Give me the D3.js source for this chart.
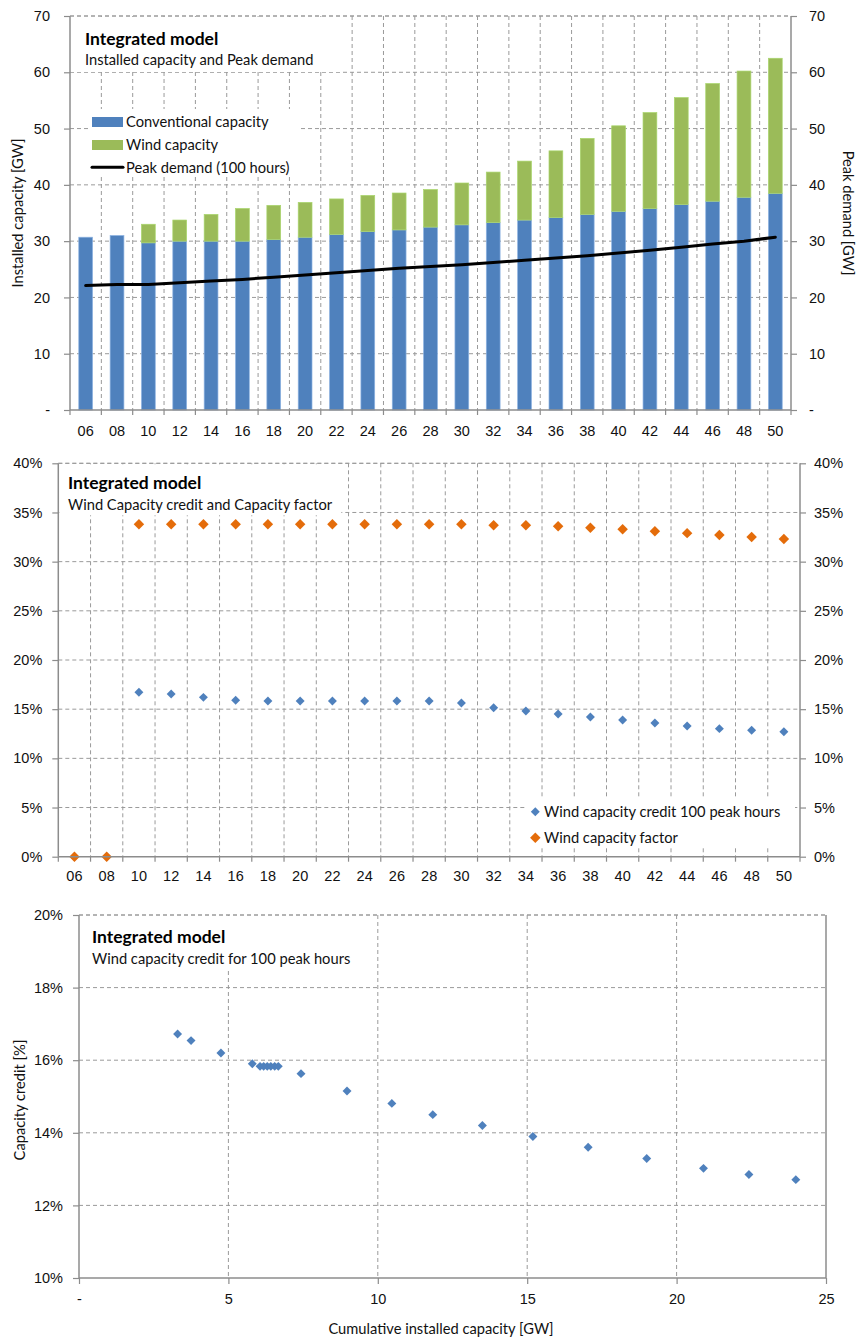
<!DOCTYPE html>
<html>
<head>
<meta charset="utf-8">
<script src="https://cdn.jsdelivr.net/npm/d3@7"></script>
<style>
  html, body { margin: 0; padding: 0; background: #fff; }
  svg { display: block; font-family: Lato, "Open Sans", sans-serif; }
  .tick-label { font-size: 14.5px; fill: #111; }
  .txt { font-size: 14.7px; fill: #111; }
  .ttl { font-size: 17.5px; font-weight: bold; fill: #000; }
</style>
</head>
<body>
<svg id="chart" width="857" height="1340"></svg>
<script>
// ---- data ----
const years = ["06","08","10","12","14","16","18","20","22","24","26","28","30","32","34","36","38","40","42","44","46","48","50"];
// installed conventional capacity [GW]
const conventional = [30.7,31.0,29.7,30.0,30.0,30.0,30.3,30.7,31.2,31.7,32.0,32.5,32.9,33.3,33.75,34.2,34.75,35.3,35.8,36.5,37.1,37.8,38.5];
// cumulative installed wind capacity [GW]
const wind = [0,0,3.3,3.75,4.75,5.8,6.06,6.18,6.3,6.42,6.55,6.67,7.43,8.97,10.47,11.84,13.5,15.19,17.04,19.0,20.9,22.42,23.99];
// peak demand, 100 hours [GW]
const peakDemand = [22.1,22.3,22.3,22.6,22.9,23.2,23.6,24.0,24.4,24.8,25.2,25.5,25.8,26.2,26.6,27.0,27.4,27.9,28.4,28.9,29.5,30.0,30.7];
// wind capacity credit for 100 peak hours [%]
const capacityCredit = [0,0,16.72,16.54,16.2,15.9,15.83,15.83,15.83,15.83,15.83,15.83,15.63,15.15,14.81,14.5,14.2,13.9,13.6,13.29,13.02,12.85,12.71];
// wind capacity factor [%]
const capacityFactor = [0,0,33.8,33.8,33.8,33.8,33.8,33.8,33.8,33.8,33.8,33.8,33.8,33.7,33.7,33.6,33.45,33.3,33.1,32.9,32.7,32.5,32.3];

const gwTicks = [0,10,20,30,40,50,60,70];
const pctTicks = [0,5,10,15,20,25,30,35,40];
const creditTicks = [10,12,14,16,18,20];
const cumTicks = [0,5,10,15,20,25];

const C = { blue: "#4F81BD", blueEdge: "#8DB3E2", green: "#9BBB59", greenEdge: "#A9D66C", orange: "#E46C0A", grid: "#9a9a9a", axis: "#8c8c8c" };

const svg = d3.select("#chart");

function dashedH(g, x0, x1, y) {
  g.append("line").attr("x1", x0).attr("x2", x1).attr("y1", y).attr("y2", y)
    .attr("stroke", C.grid).attr("stroke-width", 1).attr("stroke-dasharray", "4,3");
}
function dashedV(g, x, y0, y1) {
  g.append("line").attr("x1", x).attr("x2", x).attr("y1", y0).attr("y2", y1)
    .attr("stroke", C.grid).attr("stroke-width", 1).attr("stroke-dasharray", "4,3");
}
function solid(g, x1, y1, x2, y2) {
  g.append("line").attr("x1", x1).attr("y1", y1).attr("x2", x2).attr("y2", y2)
    .attr("stroke", C.axis).attr("stroke-width", 1.5);
}
function whiteBox(g, x, y, w, h) {
  g.append("rect").attr("x", x).attr("y", y).attr("width", w).attr("height", h).attr("fill", "#fff");
}
function diamond(area) {
  return d3.symbol().type(d3.symbolSquare).size(area);
}

// ================= Chart 1: installed capacity and peak demand =================
(function () {
  const L = 70, R = 791, T = 16, B = 410;
  const g = svg.append("g");
  const x = d3.scaleBand().domain(years).range([L, R]).padding(0);
  const y = d3.scaleLinear().domain([0, 70]).range([B, T]);
  const yR = d3.scaleLinear().domain([0, 70]).range([B, T]);

  // grid
  gwTicks.filter(v => v > 0).forEach(v => dashedH(g, L, R, y(v)));
  years.slice(1).forEach(yr => dashedV(g, x(yr), T, B));

  // stacked bars
  const rows = years.map((yr, i) => ({ year: yr, conventional: conventional[i], wind: wind[i] }));
  const stack = d3.stack().keys(["conventional", "wind"])(rows);
  const bw = x.bandwidth() * 0.44;
  const fills = { conventional: [C.blue, C.blueEdge], wind: [C.green, C.greenEdge] };
  stack.forEach(layer => {
    g.append("g").selectAll("rect").data(layer.filter(d => d[1] - d[0] > 0)).join("rect")
      .attr("x", d => x(d.data.year) + (x.bandwidth() - bw) / 2)
      .attr("width", bw)
      .attr("y", d => y(d[1]))
      .attr("height", d => y(d[0]) - y(d[1]))
      .attr("fill", fills[layer.key][0])
      .attr("stroke", fills[layer.key][1]).attr("stroke-width", 0.7);
  });

  // peak demand line (right axis)
  const line = d3.line().x((d, i) => x(years[i]) + x.bandwidth() / 2).y(d => yR(d));
  g.append("path").datum(peakDemand).attr("d", line)
    .attr("fill", "none").attr("stroke", "#000").attr("stroke-width", 3).attr("stroke-linecap", "round");

  // title and legend panels
  whiteBox(g, L + 1, T + 1, 270, 55);
  g.append("text").attr("class", "ttl").attr("x", 85).attr("y", 45).text("Integrated model");
  g.append("text").attr("class", "txt").attr("x", 85).attr("y", 64.5).text("Installed capacity and Peak demand");

  whiteBox(g, 88, 109, 212, 68);
  const leg = [
    { label: "Conventional capacity", type: "rect", color: C.blue, cy: 122 },
    { label: "Wind capacity", type: "rect", color: C.green, cy: 145 },
    { label: "Peak demand (100 hours)", type: "line", color: "#000", cy: 167.3 }
  ];
  leg.forEach(d => {
    if (d.type === "rect") {
      g.append("rect").attr("x", 92).attr("y", d.cy - 5).attr("width", 31).attr("height", 10).attr("fill", d.color);
    } else {
      g.append("line").attr("x1", 92).attr("x2", 123).attr("y1", d.cy).attr("y2", d.cy)
        .attr("stroke", d.color).attr("stroke-width", 3).attr("stroke-linecap", "round");
    }
    g.append("text").attr("class", "txt").attr("x", 126).attr("y", d.cy).attr("dy", "0.36em").text(d.label);
  });

  // axes
  const fmt = v => v === 0 ? "-" : String(v);
  const ax = g.append("g").attr("transform", `translate(0,${B})`)
    .call(d3.axisBottom(x).tickSize(0).tickFormat(d => d));
  ax.select(".domain").remove();
  ax.selectAll("text").attr("class", "tick-label").attr("y", 20.5).attr("dy", "0.35em");
  years.concat([null]).forEach(yr => {
    const xx = yr === null ? R : x(yr);
    g.append("line").attr("x1", xx).attr("x2", xx).attr("y1", B).attr("y2", B + 5).attr("stroke", C.axis).attr("stroke-width", 1.2);
  });

  const axL = g.append("g").attr("transform", `translate(${L},0)`)
    .call(d3.axisLeft(y).tickValues(gwTicks).tickFormat(fmt).tickSize(6).tickPadding(14));
  axL.select(".domain").remove();
  axL.selectAll("line").attr("stroke", C.axis).attr("stroke-width", 1.2);
  axL.selectAll("text").attr("class", "tick-label");

  const axR = g.append("g").attr("transform", `translate(${R},0)`)
    .call(d3.axisRight(yR).tickValues(gwTicks).tickFormat(fmt).tickSize(6).tickPadding(12));
  axR.select(".domain").remove();
  axR.selectAll("line").attr("stroke", C.axis).attr("stroke-width", 1.2);
  axR.selectAll("text").attr("class", "tick-label");

  solid(g, L, T, L, B);
  solid(g, R, T, R, B);
  solid(g, L, B, R, B);
  dashedH(g, L, R, T);

  g.append("text").attr("class", "txt").attr("transform", `translate(18,${(T + B) / 2}) rotate(-90)`)
    .attr("text-anchor", "middle").attr("dy", "0.35em").text("Installed capacity [GW]");
  g.append("text").attr("class", "txt").attr("transform", `translate(848,${(T + B) / 2}) rotate(90)`)
    .attr("text-anchor", "middle").attr("dy", "0.35em").text("Peak demand [GW]");
})();

// ================= Chart 2: capacity credit and capacity factor =================
(function () {
  const L = 58.3, R = 800, T = 463.3, B = 856.7;
  const g = svg.append("g");
  const x = d3.scaleBand().domain(years).range([L, R]).padding(0);
  const y = d3.scaleLinear().domain([0, 40]).range([B, T]);
  const cx = yr => x(yr) + x.bandwidth() / 2;

  pctTicks.filter(v => v > 0).forEach(v => dashedH(g, L, R, y(v)));
  years.slice(1).forEach(yr => dashedV(g, x(yr), T, B));

  whiteBox(g, L + 1, T + 1, 282, 51);
  g.append("text").attr("class", "ttl").attr("x", 68).attr("y", 489).text("Integrated model");
  g.append("text").attr("class", "txt").attr("x", 68).attr("y", 509.5).text("Wind Capacity credit and Capacity factor");

  whiteBox(g, 527, 798, 268, 50);

  const sBlue = diamond(40), sOrange = diamond(55);
  g.append("g").selectAll("path").data(capacityCredit).join("path")
    .attr("d", sBlue)
    .attr("transform", (d, i) => `translate(${cx(years[i])},${y(d)}) rotate(45)`)
    .attr("fill", C.blue);
  g.append("g").selectAll("path").data(capacityFactor).join("path")
    .attr("d", sOrange)
    .attr("transform", (d, i) => `translate(${cx(years[i])},${y(d)}) rotate(45)`)
    .attr("fill", C.orange);

  const leg = [
    { label: "Wind capacity credit 100 peak hours", color: C.blue, s: sBlue, cy: 811.7 },
    { label: "Wind capacity factor", color: C.orange, s: sOrange, cy: 837.7 }
  ];
  leg.forEach(d => {
    g.append("path").attr("d", d.s).attr("transform", `translate(535.3,${d.cy}) rotate(45)`).attr("fill", d.color);
    g.append("text").attr("class", "txt").attr("x", 544).attr("y", d.cy).attr("dy", "0.36em").text(d.label);
  });

  const fmt = v => v + "%";
  const ax = g.append("g").attr("transform", `translate(0,${B})`)
    .call(d3.axisBottom(x).tickSize(0));
  ax.select(".domain").remove();
  ax.selectAll("text").attr("class", "tick-label").attr("y", 19.5).attr("dy", "0.35em");
  years.concat([null]).forEach(yr => {
    const xx = yr === null ? R : x(yr);
    g.append("line").attr("x1", xx).attr("x2", xx).attr("y1", B).attr("y2", B + 5).attr("stroke", C.axis).attr("stroke-width", 1.2);
  });

  const axL = g.append("g").attr("transform", `translate(${L},0)`)
    .call(d3.axisLeft(y).tickValues(pctTicks).tickFormat(fmt).tickSize(6).tickPadding(10));
  axL.select(".domain").remove();
  axL.selectAll("line").attr("stroke", C.axis).attr("stroke-width", 1.2);
  axL.selectAll("text").attr("class", "tick-label");

  const axR = g.append("g").attr("transform", `translate(${R},0)`)
    .call(d3.axisRight(y).tickValues(pctTicks).tickFormat(fmt).tickSize(6).tickPadding(8));
  axR.select(".domain").remove();
  axR.selectAll("line").attr("stroke", C.axis).attr("stroke-width", 1.2);
  axR.selectAll("text").attr("class", "tick-label");

  solid(g, L, T, L, B);
  solid(g, R, T, R, B);
  solid(g, L, B, R, B);
  dashedH(g, L, R, T);
})();

// ================= Chart 3: capacity credit vs cumulative wind capacity =================
(function () {
  const L = 79, R = 826, T = 915, B = 1278;
  const g = svg.append("g");
  const x = d3.scaleLinear().domain([0, 25]).range([L, R]);
  const y = d3.scaleLinear().domain([10, 20]).range([B, T]);

  creditTicks.filter(v => v > 10).forEach(v => dashedH(g, L, R, y(v)));
  cumTicks.filter(v => v > 0 && v < 25).forEach(v => dashedV(g, x(v), T, B));

  whiteBox(g, L + 1, T + 1, 278, 52);
  g.append("text").attr("class", "ttl").attr("x", 92).attr("y", 943).text("Integrated model");
  g.append("text").attr("class", "txt").attr("x", 92).attr("y", 963.5).text("Wind capacity credit for 100 peak hours");

  const pts = wind.map((w, i) => ({ w, c: capacityCredit[i] })).filter(d => d.w > 0);
  g.append("g").selectAll("path").data(pts).join("path")
    .attr("d", diamond(40))
    .attr("transform", d => `translate(${x(d.w)},${y(d.c)}) rotate(45)`)
    .attr("fill", C.blue);

  const axB = g.append("g").attr("transform", `translate(0,${B})`)
    .call(d3.axisBottom(x).tickValues(cumTicks).tickFormat(v => v === 0 ? "-" : String(v)).tickSize(6).tickPadding(0));
  axB.select(".domain").remove();
  axB.selectAll("line").attr("stroke", C.axis).attr("stroke-width", 1.2);
  axB.selectAll("text").attr("class", "tick-label").attr("y", 21).attr("dy", "0.35em");

  const axL = g.append("g").attr("transform", `translate(${L},0)`)
    .call(d3.axisLeft(y).tickValues(creditTicks).tickFormat(v => v + "%").tickSize(6).tickPadding(10));
  axL.select(".domain").remove();
  axL.selectAll("line").attr("stroke", C.axis).attr("stroke-width", 1.2);
  axL.selectAll("text").attr("class", "tick-label");

  solid(g, L, T, L, B);
  solid(g, R, T, R, B);
  solid(g, L, B, R, B);
  dashedH(g, L, R, T);

  g.append("text").attr("class", "txt").attr("transform", `translate(20,1100) rotate(-90)`)
    .attr("text-anchor", "middle").attr("dy", "0.35em").text("Capacity credit [%]");
  g.append("text").attr("class", "txt").attr("x", 441).attr("y", 1329).attr("dy", "0.35em")
    .attr("text-anchor", "middle").text("Cumulative installed capacity [GW]");
})();
</script>
</body>
</html>
